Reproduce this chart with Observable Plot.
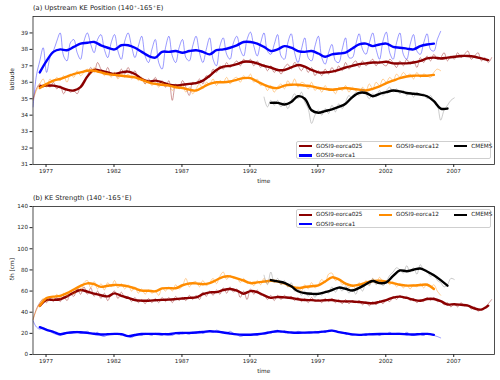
<!DOCTYPE html>
<html><head><meta charset="utf-8">
<script src="https://cdn.jsdelivr.net/npm/d3@7"></script>
<script src="https://cdn.jsdelivr.net/npm/@observablehq/plot@0.6"></script>
<style>
body{margin:0;background:#fff;font-family:"DejaVu Sans",sans-serif;}
#wrap{position:relative;width:500px;height:380px;overflow:hidden;}
#wrap svg{display:block;}
.title{position:absolute;left:33px;font-size:6.7px;line-height:8px;color:#222;white-space:nowrap;}
.title sup{font-size:70%;line-height:0;vertical-align:0.45em;padding:0 0.5px;}
.legend{position:absolute;left:295.7px;width:195px;height:18.3px;border:0.6px solid #cfcfcf;border-radius:2px;background:rgba(255,255,255,0.85);box-sizing:border-box;}
.sw{position:absolute;width:13.3px;height:2.3px;}
.lt{position:absolute;font-size:5.7px;line-height:7px;color:#222;white-space:nowrap;}
</style></head>
<body><div id="wrap"></div>
<script>
// ---------- time axis ----------
const xTickYears = [1977, 1982, 1987, 1992, 1997, 2002, 2007];
const posTicks = [31, 32, 33, 34, 35, 36, 37, 38, 39];
const strTicks = [0, 20, 40, 60, 80, 100, 120, 140];

// series names and colours
const names = ["GOSI9-eorca025", "GOSI9-eorca1", "GOSI9-eorca12", "CMEMS"];
const colors = ["#8b0000", "#0000ff", "#ff8c00", "#000000"];
const thinColors = ["#8b0000", "#0000ff", "#ff8c00", "#888888"];
const thinOpacity = [0.5, 0.5, 0.5, 0.55];

// start times (decimal years); thin = quarterly samples, thick = smoothed half-yearly samples
const modelThinStart = 1976.04, modelThickStart = 1976.54;
const obsThinStart = 1993.04, obsThickStart = 1993.54;
const thinStep = 0.25, thickStep = 0.5;

// ---------- (a) KE position, latitude ----------
const posE025Thin = [34.95,35.6,35.9,35.7, 35.9,35.7,36.0,35.6, 35.8,35.3,35.6,35.4, 35.5,35.3,35.8,36.1, 36.4,36.9,36.6,37.2, 36.8,36.5,36.9,36.4, 36.6,36.3,36.8,36.5, 36.9,36.5,36.7,36.2, 36.3,35.9,36.2,36.0, 36.3,35.8,36.1,35.7, 36.1,34.9,35.9,35.6, 36.1,35.7,35.2,36.0, 35.9,36.2,35.9,36.4, 36.3,36.8,36.6,37.0, 36.8,37.2,36.9,37.1, 37.3,37.0,37.4,37.2, 37.4,37.0,37.3,36.9, 37.1,36.7,37.0,36.6, 36.8,36.5,36.9,37.1, 36.8,37.2,37.0,36.7, 37.0,36.6,36.9,36.4, 36.7,36.4,36.8,36.5, 36.9,36.6,37.0,36.7, 37.2,36.8,37.1,37.3, 36.9,37.3,37.0,37.2, 37.4,37.0,37.3,37.1, 37.0,37.4,37.2,36.9, 37.3,37.0,37.4,37.1, 37.3,36.9,37.5,37.2, 37.6,37.3,37.7,37.4, 37.5,37.8,37.3,37.6, 37.4,37.8,37.5,37.7, 37.9,37.4,37.6,37.8, 37.3,37.5,37.2,37.5];
const posE025Thick = [35.75, 35.8,35.8, 35.7,35.55, 35.5,35.7, 36.35,36.75, 36.7,36.6, 36.5,36.6, 36.65,36.5, 36.2,36.05, 36.1,36.0, 35.85,35.8, 35.85,35.9, 35.95,36.1, 36.4,36.75, 36.95,37.0, 37.1,37.25, 37.25,37.15, 37.0,36.9, 36.75,36.75, 36.9,37.05, 36.95,36.75, 36.6,36.6, 36.65,36.75, 36.9,37.0, 37.1,37.15, 37.2,37.2, 37.25,37.15, 37.15,37.15, 37.2,37.3, 37.45,37.5, 37.45,37.5, 37.55,37.6, 37.6,37.55, 37.45,37.35];
const posE1Thin = [34.5,36.4,37.3,38.1, 36.6,37.5,37.9,38.5, 39.0,37.6,37.3,38.4, 38.6,37.8,37.4,38.5, 39.0,38.3,37.8,38.6, 38.9,38.0,37.5,38.4, 38.9,37.9,37.4,38.5, 39.0,38.2,37.5,38.2, 38.8,37.6,37.2,38.0, 38.6,37.2,36.8,38.1, 38.8,37.6,37.2,38.1, 38.6,37.5,37.3,38.2, 38.8,37.8,37.2,38.0, 38.7,37.4,37.0,38.2, 38.7,37.7,37.4,38.4, 38.8,38.0,37.6,38.6, 39.05,38.2,37.6,38.4, 39.0,37.9,37.7,38.3, 38.9,37.6,37.4,38.4, 38.95,37.8,37.2,38.0, 38.7,37.5,37.3,38.2, 38.8,37.5,37.1,37.8, 38.3,37.3,37.2,38.0, 38.7,37.5,37.5,38.3, 38.95,38.0,37.7,38.4, 39.0,38.0,37.4,38.5, 39.05,37.8,37.4,38.4, 39.0,37.7,37.4,38.3, 38.9,37.9,37.7,38.4, 38.95,38.0,37.9,38.6, 39.1];
const posE1Thick = [36.6, 37.3,37.85, 38.0,37.95, 38.15,38.35, 38.4,38.45, 38.25,38.1, 38.0,38.25, 38.25,38.1, 37.85,37.6, 37.5,37.85, 37.85,37.9, 37.8,37.9, 37.95,37.85, 37.7,37.95, 38.0,38.1, 38.25,38.45, 38.45,38.35, 38.15,37.9, 38.0,38.2, 38.1,37.9, 37.85,37.9, 37.75,37.55, 37.7,37.75, 37.8,38.05, 38.3,38.35, 38.2,38.3, 38.35,38.15, 38.1,38.05, 38.0,38.2, 38.3,38.35];
const posE12Thin = [34.9,35.5,35.9,36.2, 35.7,36.2,36.0,36.3, 36.1,36.4,36.0,36.5, 36.3,36.7,36.4,36.6, 36.8,36.5,36.9,36.6, 36.7,36.4,36.6,36.3, 36.6,36.2,36.5,36.3, 36.5,36.2,36.4,36.1, 36.3,35.9,36.1,35.8, 36.0,35.7,36.0,35.8, 35.9,35.5,35.8,35.6, 35.8,35.4,35.7,35.3, 35.6,35.9,35.6,36.0, 35.9,36.2,35.8,36.1, 36.0,36.3,35.9,36.2, 36.3,36.0,36.4,36.2, 36.5,36.0,36.2,35.8, 35.9,35.5,35.8,35.4, 35.7,35.9,35.6,36.1, 35.8,36.2,35.7,36.0, 35.9,35.6,36.0,35.5, 35.7,35.4,35.8,35.5, 35.6,35.3,35.7,35.5, 35.8,35.4,35.7,35.5, 35.3,35.7,35.5,35.9, 35.6,36.0,35.8,36.2, 36.0,36.3,36.1,36.5, 36.3,36.6,36.4,36.5, 36.2,36.6,36.3,36.5, 36.4,36.3,36.6,36.8, 36.7];
const posE12Thick = [35.65, 35.9,36.1, 36.2,36.35, 36.5,36.6, 36.7,36.7, 36.6,36.5, 36.45,36.4, 36.35,36.3, 36.15,36.0, 35.9,35.85, 35.8,35.7, 35.65,35.55, 35.5,35.7, 35.9,36.0, 36.0,36.05, 36.15,36.25, 36.25,36.05, 35.85,35.7, 35.65,35.8, 35.85,35.85, 35.8,35.75, 35.65,35.6, 35.55,35.6, 35.65,35.6, 35.55,35.5, 35.6,35.75, 35.95,36.1, 36.25,36.35, 36.4,36.4, 36.4,36.45];
const posObsThin = [35.1,34.5,34.9,34.6, 34.9,34.5,34.8,34.4, 34.9,35.3,35.0,35.4, 34.8,34.4,33.5,34.0, 34.3,34.0,34.4,34.1, 34.6,34.2,34.7,34.4, 34.8,35.2,35.0,35.4, 35.2,35.6,35.3,35.0, 35.3,35.1,35.5,35.2, 35.5,35.7,35.4,35.6, 35.3,35.5,35.2,35.4, 35.1,35.4,35.2,35.3, 35.0,35.2,34.8,34.6, 33.7,34.3,34.6,34.9, 35.05];
const posObsThick = [34.75, 34.75,34.65, 34.8,35.15, 35.0,34.3, 34.15,34.25, 34.35,34.5, 34.7,35.1, 35.35,35.35, 35.15,35.3, 35.4,35.5, 35.45,35.35, 35.3,35.25, 35.15,34.85, 34.4,34.4];

// ---------- (b) KE strength, delta h [cm] ----------
const strE025Thin = [33,43,49,52, 49,53,50,54, 50,55,51,57, 55,62,57,64, 57,63,55,60, 53,58,51,57, 60,53,59,54, 55,50,54,49, 52,48,53,49, 53,49,54,50, 54,49,55,51, 54,51,56,52, 56,52,59,55, 60,56,61,57, 63,58,64,59, 62,54,60,52, 62,57,61,56, 57,52,56,51, 56,52,56,53, 55,51,54,50, 53,49,54,50, 52,49,53,50, 53,49,52,48, 52,48,51,49, 51,47,50,46, 50,47,51,48, 52,50,55,52, 56,53,55,51, 53,49,52,50, 54,51,54,50, 51,47,49,45, 48,45,49,46, 47,43,45,41, 43,45,48,52];
const strE025Thick = [46, 51.6,51.7, 52.3,55, 58.5,61, 59.5,57.5, 56,55, 57.8,55.5, 53.5,51.5, 50.9,50.9, 51.3,51.7, 51.9,52.4, 53,53.6, 54,57, 58.8,59, 61,61.9, 60.5,57.5, 60,59, 56,53.6, 54.4,54, 53.5,52.3, 51.6,51.4, 51,51.3, 51.5,50.5, 50.2,50.2, 49.6,49, 48.5,49.8, 51.5,53.8, 54.7,53.5, 51.8,50.8, 52.5,52.5, 50.5,47.3, 47.6,47, 46.2,43.5, 42.5,46.2];
const strE1Thin = [32,26,24,25, 24,22,20,19, 18,20,21,20, 21,22,20,21, 22,20,19,21, 18,17,19,20, 19,20,18,19, 17,16,18,19, 18,20,19,18, 20,19,18,20, 19,18,20,19, 21,20,19,21, 20,22,20,21, 22,21,23,22, 21,20,22,20, 19,17,18,19, 18,19,18,20, 19,21,20,22, 23,21,22,20, 21,20,22,21, 20,21,20,22, 21,22,21,23, 23,22,21,20, 20,19,18,19, 18,19,18,20, 19,20,18,20, 19,21,19,20, 20,19,21,19, 18,20,19,18, 20,19,18,17, 15.7];
const strE1Thick = [25.8, 23.3,21.5, 19.2,20.5, 21.1,21.1, 20.5,19.6, 18.9,19.2, 19.5,19.3, 17.4,18.5, 19.4,19.5, 19.5,19.3, 19.2,20.2, 20.4,20.5, 20.8,21.3, 22,21.6, 20.8,19.8, 19.0,18.7, 18.7,19.2, 20.0,21.2, 22,21.5, 20.8,20.6, 20.7,20.9, 21.1,21.8, 22.6,21.2, 20.1,19.0, 18.6,18.9, 19.2,19.4, 19.5,19.5, 19.5,19.2, 18.9,19.3, 19.5,18.6];
const strE12Thin = [33,42,48,53, 50,55,52,57, 53,58,55,60, 57,64,60,68, 70,63,69,62, 67,61,68,64, 70,63,67,62, 66,60,64,58, 62,57,61,58, 60,56,63,60, 64,60,66,62, 65,72,64,68, 69,64,70,65, 68,72,67,74, 78,71,75,72, 73,68,72,67, 69,65,70,66, 72,67,71,68, 70,66,68,64, 66,61,64,60, 66,62,68,63, 66,71,68,76, 77,70,72,66, 68,63,66,62, 68,64,70,66, 72,67,73,69, 70,66,69,64, 67,63,66,62, 66,64,67,63, 67,64,66,60, 56];
const strE12Thick = [46, 53.5,54.7, 55.5,58, 61.5,65, 67.3,66.5, 64,65, 65.8,65.5, 64.5,62.5, 60.4,60.3, 59.8,62.5, 62.8,62.7, 65.5,67.2, 67.3,66.5, 67.5,70.5, 73.5,73.9, 72,70, 67.5,68.2, 69,69.8, 69.2,67.2, 64.5,62.9, 63.8,64.6, 65.3,69, 73,71, 67,65.1, 66,68, 69.5,69.8, 69,67.5, 66,65.2, 65.3,65.7, 66,62];
const strObsThin = [75,66,78,68, 72,66,70,64, 68,60,62,56, 60,55,58,54, 59,56,60,58, 64,59,63,60, 65,58,62,57, 64,60,68,65, 72,66,70,65, 69,75,78,82, 80,77,84,78, 82,76,85,80, 79,74,76,70, 68,64,66,72, 71];
const strObsThick = [70.4, 69.2,67.8, 64.5,59.8, 58,57.4, 57.4,59, 61,63.3, 62.2,60.6, 63,66.5, 69.5,67.5, 68.2,74.3, 79.5,78.8, 80.2,81.3, 78.5,75, 70.4,65.1];

// ---------- helpers ----------
const rows = (vals, t0, dt) => vals.map((v, i) => ({t: t0 + dt * i, v}));

function panel(yDomain, yTicks, ylabel, thins, thicks, starts) {
  const marks = [];
  thins.forEach((thin, k) => {
    marks.push(Plot.line(rows(thin, starts[k][0], thinStep), {x: "t", y: "v", stroke: thinColors[k], strokeOpacity: thinOpacity[k], strokeWidth: 0.8, curve: "catmull-rom", clip: true}));
    marks.push(Plot.line(rows(thicks[k], starts[k][1], thickStep), {x: "t", y: "v", stroke: colors[k], strokeWidth: 2.4, curve: "catmull-rom", clip: true}));
  });
  return Plot.plot({
    width: 500, height: 190,
    marginLeft: 32.5, marginRight: 6, marginTop: 16, marginBottom: 26,
    style: {fontFamily: "DejaVu Sans", fontSize: "5.6px", color: "#222", background: "white", overflow: "visible"},
    x: {domain: [1976.04, 2010.0]},
    y: {domain: yDomain},
    marks: [
      Plot.axisX({ticks: xTickYears, tickFormat: d => String(d), tickSize: 3, tickPadding: 2, label: null, fontSize: 5.6, stroke: "#222", fill: "#222"}),
      Plot.axisY({ticks: yTicks, tickFormat: d => String(d), tickSize: 3, tickPadding: 2, label: null, fontSize: 5.6, stroke: "#222", fill: "#222"}),
      ...marks,
      Plot.frame({stroke: "#222", strokeWidth: 0.8}),
      Plot.text([ylabel], {frameAnchor: "left", dx: -20.7, rotate: -90, fontSize: 5.8, fill: "#222"}),
      Plot.text(["time"], {frameAnchor: "bottom", dy: 18.7, fontSize: 5.8, fill: "#222"})
    ]
  });
}

const starts = [[modelThinStart, modelThickStart], [modelThinStart, modelThickStart], [modelThinStart, modelThickStart], [obsThinStart, obsThickStart]];
const wrap = document.getElementById("wrap");
wrap.appendChild(panel([31, 40], posTicks, "latitude",
  [posE025Thin, posE1Thin, posE12Thin, posObsThin],
  [posE025Thick, posE1Thick, posE12Thick, posObsThick], starts));
wrap.appendChild(panel([0, 140], strTicks, "δh [cm]",
  [strE025Thin, strE1Thin, strE12Thin, strObsThin],
  [strE025Thick, strE1Thick, strE12Thick, strObsThick], starts));

// titles
function addTitle(html, top) {
  const d = document.createElement("div");
  d.className = "title"; d.style.top = top + "px"; d.innerHTML = html;
  wrap.appendChild(d);
}
addTitle("(a) Upstream KE Position (140<sup>∘</sup>-165<sup>∘</sup>E)", 4);
addTitle("(b) KE Strength (140<sup>∘</sup>-165<sup>∘</sup>E)", 194);

// legends (matplotlib ncol=3, column-major order)
const legendSlots = [[0, 0], [0, 1], [1, 0], [2, 0]]; // [column,row] per series
const colOffsets = [2, 82, 157.3];
const rowOffsets = [4.6, 13.9];
function addLegend(top) {
  const box = document.createElement("div");
  box.className = "legend"; box.style.top = top + "px";
  names.forEach((n, k) => {
    const [c, r] = legendSlots[k];
    const sw = document.createElement("div");
    sw.className = "sw"; sw.style.background = colors[k];
    sw.style.left = colOffsets[c] + "px"; sw.style.top = (rowOffsets[r] - 1.15) + "px";
    box.appendChild(sw);
    const t = document.createElement("div");
    t.className = "lt"; t.textContent = n;
    t.style.left = (colOffsets[c] + 17.3) + "px"; t.style.top = (rowOffsets[r] - 3.5) + "px";
    box.appendChild(t);
  });
  wrap.appendChild(box);
}
addLegend(140.6);
addLegend(209.3);
</script>
</body></html>
